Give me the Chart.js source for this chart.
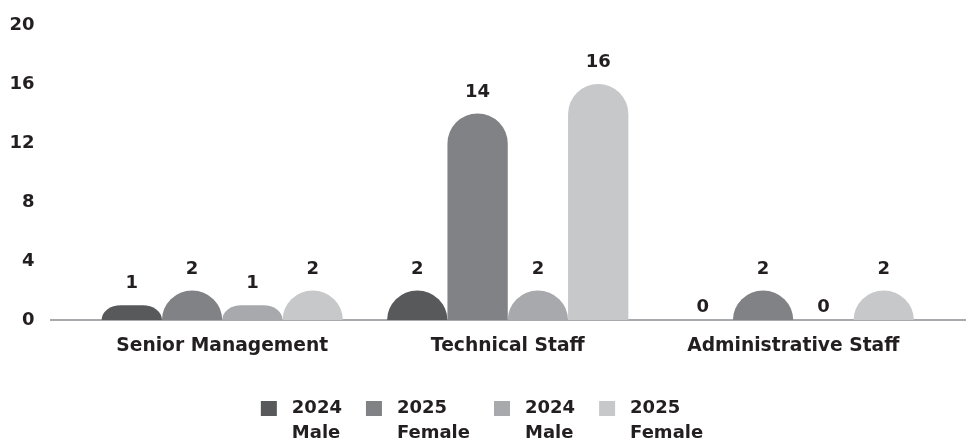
<!DOCTYPE html>
<html>
<head>
<meta charset="utf-8">
<style>
  html, body { margin: 0; padding: 0; background: #fff; }
  #wrap { width: 968px; height: 444px; }
</style>
</head>
<body>
<div id="wrap"><canvas id="chart"></canvas></div>
<script src="https://cdn.jsdelivr.net/npm/chart.js@4.4.1/dist/chart.umd.min.js"></script>
<script>
// Headcount per staff category
const categories = ['Senior Management', 'Technical Staff', 'Administrative Staff'];
const male2024 = [1, 2, 0];
const female2025 = [2, 14, 2];
const male2024b = [1, 2, 0];
const female2025b = [2, 16, 2];
const seriesLabels = [['2024', 'Male'], ['2025', 'Female'], ['2024', 'Male'], ['2025', 'Female']];
const seriesColors = ['#58595b', '#808285', '#a7a9ac', '#c7c8ca'];
const yTicks = [0, 4, 8, 12, 16, 20];

const textColor = '#231f20';
const fontFamily = "'DejaVu Sans', sans-serif";
const font = { family: fontFamily, size: 18, weight: 'bold' };

// path for a bar with a rounded (pill) top
function pillPath(ctx, x, top, base, w) {
    const r = w / 2, h = base - top, left = x - r, right = x + r;
    if (h <= 0) return false;
    ctx.beginPath();
    if (h >= r) {
        ctx.moveTo(left, base);
        ctx.lineTo(left, top + r);
        ctx.arc(x, top + r, r, Math.PI, 0);
        ctx.lineTo(right, base);
    } else {
        const rx = Math.min(r, h * 1.3);
        ctx.moveTo(left, base);
        ctx.ellipse(left + rx, base, rx, h, 0, Math.PI, Math.PI * 1.5);
        ctx.lineTo(right - rx, top);
        ctx.ellipse(right - rx, base, rx, h, 0, Math.PI * 1.5, Math.PI * 2);
    }
    ctx.closePath();
    return true;
}

// baseline, rounded bars and value labels
const pillBars = {
    id: 'pillBars',
    beforeDatasetsDraw(chart, args, opts) {
        const ctx = chart.ctx;
        const y0 = chart.scales.y.getPixelForValue(0);
        ctx.save();
        ctx.strokeStyle = opts.lineColor;
        ctx.lineWidth = 2;
        ctx.beginPath();
        ctx.moveTo(opts.lineFrom, y0);
        ctx.lineTo(opts.lineTo, y0);
        ctx.stroke();

        chart.data.datasets.forEach((ds, i) => {
            const meta = chart.getDatasetMeta(i);
            meta.data.forEach((bar, j) => {
                const p = bar.getProps(['x', 'y', 'base', 'width'], true);
                if (pillPath(ctx, p.x, p.y, p.base, p.width)) {
                    ctx.fillStyle = ds.backgroundColor;
                    ctx.fill();
                }
                const v = ds.data[j];
                ctx.fillStyle = textColor;
                ctx.font = 'bold 18px ' + fontFamily;
                ctx.textAlign = 'center';
                ctx.textBaseline = 'alphabetic';
                ctx.fillText(String(v), p.x, v > 0 ? p.y - 17 : p.base - 8);
            });
        });
        ctx.restore();
        return false;
    }
};

// two-line legend under the axis
const bottomLegend = {
    id: 'bottomLegend',
    afterDraw(chart, args, opts) {
        const ctx = chart.ctx;
        ctx.save();
        ctx.font = 'bold 18px ' + fontFamily;
        const items = chart.data.datasets.map(ds => {
            const tw = Math.max(...ds.label.map(t => ctx.measureText(t).width));
            return { lines: ds.label, color: ds.backgroundColor, w: opts.boxWidth + opts.textGap + tw };
        });
        const total = items.reduce((s, it) => s + it.w, 0) + opts.gap * (items.length - 1);
        let x = (chart.width - total) / 2 - 2;
        items.forEach(it => {
            ctx.fillStyle = it.color;
            ctx.fillRect(x, opts.top, opts.boxWidth, opts.boxHeight);
            ctx.fillStyle = textColor;
            ctx.textAlign = 'left';
            ctx.textBaseline = 'middle';
            it.lines.forEach((t, i) => {
                ctx.fillText(t, x + opts.boxWidth + opts.textGap, opts.top + opts.boxHeight / 2 + i * opts.lineHeight);
            });
            x += it.w + opts.gap;
        });
        ctx.restore();
    }
};

const seriesData = [male2024, female2025, male2024b, female2025b];

new Chart('chart', {
    type: 'bar',
    data: {
        labels: categories,
        datasets: seriesData.map((d, i) => ({
            label: seriesLabels[i],
            data: d,
            backgroundColor: seriesColors[i]
        }))
    },
    options: {
        responsive: true,
        maintainAspectRatio: false,
        animation: false,
        layout: { padding: { top: 25, left: 9.5, right: 32, bottom: 84 } },
        datasets: { bar: { categoryPercentage: 0.845, barPercentage: 1 } },
        scales: {
            x: {
                grid: { display: false, drawTicks: false, tickLength: 0 },
                border: { display: false },
                ticks: { padding: 15, color: textColor, font: { family: fontFamily, size: 18.7, weight: 'bold' }, maxRotation: 0 },
                afterFit: scale => { scale.height = 40; }
            },
            y: {
                min: 0,
                max: 20,
                grid: { display: false, drawTicks: false, tickLength: 0 },
                border: { display: false },
                afterBuildTicks: scale => { scale.ticks = yTicks.map(v => ({ value: v })); },
                ticks: { padding: 45, color: textColor, font: font },
                afterFit: scale => {
                    scale.width = 70;
                    scale.paddingTop = 11;
                    scale.paddingBottom = 11;
                }
            }
        },
        plugins: {
            legend: { display: false },
            tooltip: { enabled: false },
            pillBars: { lineColor: '#a7a9ac', lineFrom: 50, lineTo: 966 },
            bottomLegend: { top: 401, boxWidth: 16, boxHeight: 15, textGap: 15, gap: 24, lineHeight: 25 }
        }
    },
    plugins: [pillBars, bottomLegend]
});
</script>
</body>
</html>
